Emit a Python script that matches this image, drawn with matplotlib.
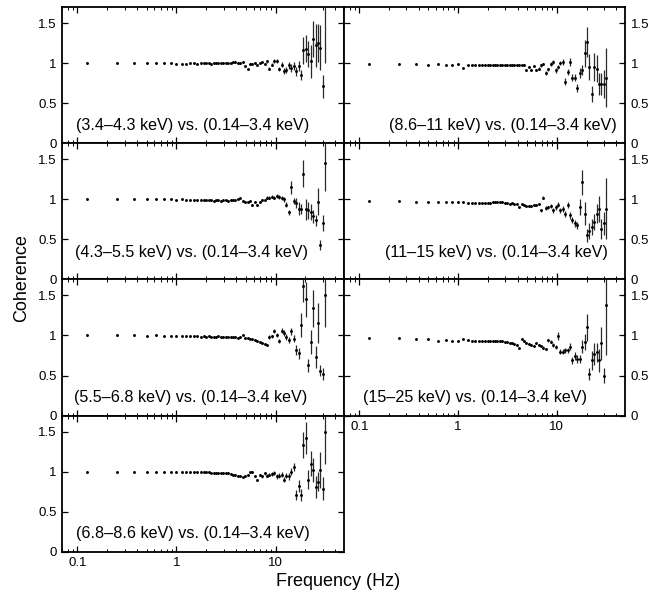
import matplotlib
matplotlib.use("Agg")
import matplotlib.pyplot as plt
from matplotlib.ticker import LogLocator, NullFormatter, FixedLocator, FixedFormatter

plt.rcParams['font.family'] = ['Liberation Sans', 'DejaVu Sans']

# Frequencies (Hz): 0.125 Hz resolution at low f, then log-rebinned
freq = [0.125, 0.25, 0.375, 0.5, 0.625, 0.75, 0.875, 1.0, 1.125, 1.25, 1.375, 1.5, 1.625, 1.75, 1.875,
        2.000, 2.116, 2.239, 2.369, 2.506, 2.651, 2.805, 2.968, 3.140, 3.322, 3.515, 3.719, 3.934,
        4.163, 4.404, 4.660, 4.930, 5.216, 5.518, 5.838, 6.177, 6.535, 6.914, 7.315, 7.739, 8.188,
        8.663, 9.166, 9.697, 10.26, 10.85, 11.48, 12.15, 12.86, 13.60, 14.39, 15.22, 16.11, 17.04,
        18.03, 19.08, 20.18, 21.35, 22.59, 23.90, 25.29, 26.76, 28.31, 29.95, 31.69]

# Errors of the lowest 31 frequencies (common to all bands, tiny)
low_err = [0.002, 0.002, 0.002, 0.002, 0.002, 0.002, 0.002, 0.002, 0.002, 0.003, 0.003, 0.003,
           0.003, 0.003, 0.003, 0.003, 0.003, 0.004, 0.004, 0.004, 0.004, 0.004, 0.005, 0.005,
           0.005, 0.006, 0.006, 0.006, 0.007, 0.007, 0.008]

labels = ["(3.4\u20134.3 keV) vs. (0.14\u20133.4 keV)",
          "(8.6\u201311 keV) vs. (0.14\u20133.4 keV)",
          "(4.3\u20135.5 keV) vs. (0.14\u20133.4 keV)",
          "(11\u201315 keV) vs. (0.14\u20133.4 keV)",
          "(5.5\u20136.8 keV) vs. (0.14\u20133.4 keV)",
          "(15\u201325 keV) vs. (0.14\u20133.4 keV)",
          "(6.8\u20138.6 keV) vs. (0.14\u20133.4 keV)"]

coh_34_43 = [1.00, 1.00, 1.00, 1.00, 1.00, 1.00, 1.00, 0.99, 0.99, 0.99, 1.00, 1.00, 0.99, 1.00, 1.00,
             1.00, 1.00, 0.99, 1.00, 1.00, 1.00, 1.00, 1.00, 1.00, 1.00, 1.00, 1.01, 1.01, 1.00, 1.00, 1.01,
             0.96, 0.92, 0.99, 0.99, 1.00, 0.98, 1.00, 1.01, 0.99, 1.02, 0.93, 0.98, 1.03, 1.03, 0.93, 0.98,
             0.90, 0.91, 0.97, 0.94, 0.96, 0.90, 0.96, 0.85, 1.16, 1.18, 1.11, 1.02, 1.30, 1.22, 1.25, 1.19,
             0.71, 1.80]
err_34_43 = [0.01, 0.01, 0.01, 0.01, 0.012, 0.012, 0.013, 0.014, 0.015, 0.016, 0.02, 0.02, 0.025,
             0.025, 0.025, 0.03, 0.04, 0.04, 0.045, 0.05, 0.05, 0.055, 0.06, 0.06, 0.17, 0.17, 0.16,
             0.20, 0.23, 0.27, 0.24, 0.28, 0.14, 0.80]

coh_86_11 = [0.99, 0.99, 0.99, 0.98, 0.99, 0.97, 0.98, 0.99, 0.94, 0.97, 0.98, 0.98, 0.97, 0.98, 0.98,
             0.98, 0.98, 0.97, 0.98, 0.98, 0.97, 0.98, 0.97, 0.97, 0.98, 0.97, 0.97, 0.98, 0.97, 0.98, 0.98,
             0.91, 0.95, 0.91, 0.96, 0.91, 0.93, 0.97, 0.99, 0.875, 0.92, 0.99, 1.01, 0.91, 0.95, 1.00, 1.01,
             0.77, 0.89, 1.01, 0.82, 0.82, 0.69, 0.88, 0.91, 1.12, 1.26, 0.95, 0.62, 0.95, 0.93, 0.74, 0.74,
             0.74, 0.82]
err_86_11 = [0.01, 0.012, 0.012, 0.013, 0.014, 0.015, 0.016, 0.017, 0.02, 0.02, 0.025, 0.025, 0.03,
             0.03, 0.03, 0.035, 0.04, 0.04, 0.05, 0.04, 0.045, 0.045, 0.06, 0.06, 0.17, 0.19, 0.16,
             0.10, 0.17, 0.17, 0.14, 0.14, 0.17, 0.37]

coh_43_55 = [1.00, 1.00, 1.00, 1.00, 1.00, 1.00, 1.00, 0.995, 1.00, 0.99, 0.99, 0.99, 0.985, 0.99, 0.985,
             0.985, 0.99, 0.985, 0.98, 0.985, 0.985, 0.98, 0.985, 0.985, 0.98, 0.985, 0.99, 0.985, 1.00, 1.01, 0.98,
             0.97, 0.96, 0.975, 0.93, 0.96, 0.93, 0.97, 0.99, 0.99, 1.02, 1.02, 1.03, 1.02, 1.04, 1.03, 1.02,
             1.00, 0.93, 0.84, 1.15, 0.975, 0.95, 0.88, 0.88, 1.32, 0.875, 0.86, 0.84, 0.79, 0.74, 0.97, 0.43,
             0.70, 1.45]
err_43_55 = [0.01, 0.01, 0.01, 0.01, 0.012, 0.012, 0.013, 0.014, 0.015, 0.02, 0.02, 0.02, 0.02, 0.025,
             0.025, 0.025, 0.03, 0.03, 0.03, 0.08, 0.04, 0.06, 0.08, 0.06, 0.17, 0.13, 0.10, 0.10,
             0.08, 0.07, 0.17, 0.06, 0.10, 0.35]

coh_11_15 = [0.975, 0.975, 0.97, 0.97, 0.97, 0.965, 0.965, 0.96, 0.96, 0.955, 0.955, 0.95, 0.955, 0.95, 0.95,
             0.95, 0.955, 0.96, 0.965, 0.97, 0.965, 0.96, 0.955, 0.95, 0.945, 0.95, 0.94, 0.935, 0.90, 0.94, 0.93,
             0.91, 0.915, 0.92, 0.93, 0.93, 0.94, 0.86, 1.02, 0.89, 0.90, 0.92, 0.86, 0.90, 0.93, 0.86, 0.88,
             0.82, 0.925, 0.80, 0.74, 0.70, 0.675, 0.90, 1.21, 0.82, 0.55, 0.60, 0.66, 0.72, 0.82, 0.88, 0.63,
             0.70, 0.88]
err_11_15 = [0.01, 0.012, 0.012, 0.013, 0.014, 0.015, 0.016, 0.02, 0.02, 0.02, 0.025, 0.025, 0.03,
             0.03, 0.03, 0.035, 0.035, 0.04, 0.04, 0.04, 0.04, 0.04, 0.10, 0.16, 0.14, 0.08, 0.10,
             0.10, 0.10, 0.12, 0.16, 0.12, 0.14, 0.38]

coh_55_68 = [1.00, 1.00, 1.00, 0.995, 1.00, 0.995, 0.995, 0.995, 0.99, 0.995, 0.99, 0.99, 0.99, 0.985, 0.99,
             0.985, 0.99, 0.985, 0.985, 0.985, 0.99, 0.985, 0.985, 0.985, 0.98, 0.98, 0.98, 0.975, 0.97, 0.975, 1.00,
             0.97, 0.97, 0.96, 0.95, 0.94, 0.93, 0.92, 0.91, 0.89, 0.88, 0.98, 0.99, 1.05, 1.00, 0.93, 1.06,
             1.03, 0.98, 0.94, 1.05, 0.96, 0.82, 0.78, 1.13, 1.62, 1.45, 0.63, 0.92, 1.34, 0.73, 1.15, 0.56,
             0.52, 1.50]
err_55_68 = [0.01, 0.01, 0.01, 0.01, 0.01, 0.012, 0.012, 0.013, 0.014, 0.015, 0.02, 0.02, 0.025, 0.025,
             0.03, 0.03, 0.035, 0.035, 0.04, 0.04, 0.04, 0.06, 0.07, 0.15, 0.20, 0.22, 0.08, 0.15,
             0.23, 0.14, 0.25, 0.07, 0.07, 0.40]

coh_15_25 = [0.97, 0.97, 0.96, 0.96, 0.93, 0.94, 0.93, 0.935, 0.95, 0.94, 0.935, 0.93, 0.93, 0.925, 0.925,
             0.93, 0.925, 0.93, 0.935, 0.93, 0.925, 0.925, 0.92, 0.915, 0.91, 0.905, 0.89, 0.88, 0.84, 0.95, 0.925,
             0.91, 0.89, 0.88, 0.87, 0.90, 0.88, 0.87, 0.85, 0.83, 0.94, 0.92, 0.88, 0.86, 0.99, 0.80, 0.80,
             0.815, 0.815, 0.86, 0.69, 0.75, 0.71, 0.71, 0.86, 0.92, 1.10, 0.52, 0.69, 0.77, 0.79, 0.69, 0.90,
             0.50, 1.38]
err_15_25 = [0.01, 0.01, 0.01, 0.012, 0.012, 0.013, 0.014, 0.015, 0.016, 0.02, 0.02, 0.025, 0.025,
             0.05, 0.03, 0.03, 0.035, 0.035, 0.04, 0.04, 0.05, 0.05, 0.05, 0.08, 0.10, 0.17, 0.08,
             0.12, 0.14, 0.12, 0.14, 0.20, 0.09, 0.62]

coh_68_86 = [1.00, 1.00, 1.00, 1.00, 1.00, 1.00, 1.00, 0.995, 0.99, 0.995, 0.99, 0.99, 0.99, 0.995, 0.995,
             0.99, 0.99, 0.985, 0.985, 0.98, 0.98, 0.985, 0.98, 0.98, 0.98, 0.975, 0.96, 0.96, 0.95, 0.94, 0.93,
             0.95, 0.96, 0.99, 1.00, 0.94, 0.90, 0.96, 0.94, 0.98, 0.95, 0.96, 0.97, 0.98, 0.94, 0.95, 0.96,
             0.90, 0.95, 0.94, 1.00, 1.06, 0.71, 0.82, 0.71, 1.33, 1.42, 0.90, 1.10, 1.02, 0.81, 0.875, 1.02,
             0.79, 1.50]
err_68_86 = [0.01, 0.01, 0.01, 0.012, 0.012, 0.013, 0.014, 0.015, 0.016, 0.02, 0.02, 0.025, 0.025,
             0.03, 0.03, 0.03, 0.035, 0.035, 0.04, 0.04, 0.05, 0.06, 0.07, 0.07, 0.16, 0.20, 0.12,
             0.16, 0.15, 0.14, 0.12, 0.22, 0.14, 0.40]

panels = [  # (row, col, coherence, high-f errors, label, label x (axes frac), label y (data))
    (0, 0, coh_34_43, err_34_43, labels[0], 0.050, 0.22),
    (0, 1, coh_86_11, err_86_11, labels[1], 0.160, 0.22),
    (1, 0, coh_43_55, err_43_55, labels[2], 0.046, 0.34),
    (1, 1, coh_11_15, err_11_15, labels[3], 0.146, 0.34),
    (2, 0, coh_55_68, err_55_68, labels[4], 0.043, 0.22),
    (2, 1, coh_15_25, err_15_25, labels[5], 0.067, 0.22),
    (3, 0, coh_68_86, err_68_86, labels[6], 0.050, 0.23),
]

W, H = 665, 598
fig = plt.figure(figsize=(W / 100, H / 100), dpi=100)

col_left = [62, 344]
col_w = [282, 281]
top = 7
row_h = 136.2
YMAX = 1.7

for row, col, coh, herr, lab, lx, ly in panels:
    x0 = col_left[col]
    y_top = top + row * row_h
    ax = fig.add_axes([x0 / W, 1 - (y_top + row_h) / H, col_w[col] / W, row_h / H])
    err = low_err + herr
    ax.errorbar(freq, coh, yerr=err, fmt='o', color='black', ms=2.1, mew=0,
                ecolor='#2a2a2a', elinewidth=0.9, capsize=0)
    ax.set_xscale('log')
    ax.set_xlim(0.070, 49)
    ax.set_ylim(0, YMAX)
    ax.xaxis.set_major_locator(FixedLocator([0.1, 1, 10]))
    ax.xaxis.set_minor_locator(LogLocator(base=10, subs=[2, 3, 4, 5, 6, 7, 8, 9]))
    ax.xaxis.set_minor_formatter(NullFormatter())
    ax.yaxis.set_major_locator(FixedLocator([0, 0.5, 1, 1.5]))
    ax.yaxis.set_major_formatter(FixedFormatter(['0', '0.5', '1', '1.5']))
    show_x = (row == 3 and col == 0) or (row == 2 and col == 1)
    if show_x:
        ax.xaxis.set_major_formatter(FixedFormatter(['0.1', '1', '10']))
    else:
        ax.xaxis.set_major_formatter(NullFormatter())
    ax.tick_params(which='both', direction='in', top=True, right=True,
                   labelsize=9.5, pad=4)
    ax.tick_params(which='major', length=4, width=0.9)
    ax.tick_params(which='minor', length=2, width=0.7)
    if col == 1:
        ax.tick_params(axis='y', labelleft=False, labelright=True)
    for s in ax.spines.values():
        s.set_linewidth(1.3)
    ax.text(lx, ly / YMAX, lab, transform=ax.transAxes, fontsize=11.6, ha='left', va='center')

fig.text(22 / W, 1 - 278 / H, 'Coherence', rotation=90, ha='center', va='center', fontsize=13)
fig.text(338 / W, 1 - 581 / H, 'Frequency (Hz)', ha='center', va='center', fontsize=13)

fig.savefig('out.png', dpi=100)
